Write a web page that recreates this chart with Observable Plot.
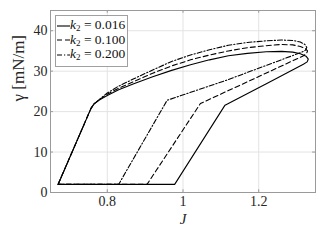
<!DOCTYPE html>
<html><head><meta charset="utf-8">
<script src="https://cdn.jsdelivr.net/npm/d3@7"></script>
<script src="https://cdn.jsdelivr.net/npm/@observablehq/plot@0.6"></script>
<style>
body{margin:0;background:#fff;}
#wrap{position:relative;width:327px;height:245px;font-family:'Liberation Serif','Times New Roman',serif;}
#wrap svg text{font-family:'Liberation Serif','Times New Roman',serif;}
#legend{position:absolute;left:55px;top:15px;width:73px;height:52px;border:1px solid #a0a0a0;background:#fff;box-sizing:border-box;font-size:13.5px;color:#111;font-family:'Liberation Serif','Times New Roman',serif;}
#legend .row{position:absolute;left:1px;height:14px;line-height:14px;white-space:nowrap;}
#legend svg{vertical-align:middle;}
#legend i{font-style:italic;}
#legend sub{font-size:9px;vertical-align:-2px;line-height:0;}
</style></head>
<body><div id="wrap"></div>
<script>
const xTicks = [0.8, 1, 1.2];
const xTickLabels = ["0.8", "1", "1.2"];
const yTicks = [0, 10, 20, 30, 40];
const series = ["k2 = 0.016", "k2 = 0.100", "k2 = 0.200"];

const J016 = [0.670,0.757,0.765,0.78,0.80,0.83,0.87,0.92,0.97,1.02,1.07,1.12,1.17,1.22,1.26,1.29,1.31,1.325,1.331,1.328,1.318,1.229,1.111,0.978,0.670];
const g016 = [2,20.8,21.9,22.9,24.0,25.4,26.9,28.6,30.2,31.6,32.8,33.8,34.4,34.8,34.9,34.7,34.3,33.7,33.0,32.3,31.7,27.3,21.6,2,2];

const J100 = [0.670,0.757,0.765,0.78,0.80,0.83,0.87,0.92,0.97,1.02,1.07,1.12,1.17,1.22,1.26,1.29,1.31,1.323,1.329,1.326,1.316,1.203,1.046,0.905,0.670];
const g100 = [2,20.8,21.9,23.0,24.3,25.8,27.4,29.5,31.3,32.8,34.0,35.0,35.8,36.3,36.6,36.5,36.1,35.6,35.0,34.3,33.7,28.8,22.0,2,2];

const J200 = [0.670,0.757,0.765,0.78,0.80,0.83,0.87,0.92,0.97,1.02,1.07,1.12,1.17,1.22,1.26,1.29,1.31,1.322,1.327,1.324,1.314,1.116,0.958,0.830,0.670];
const g200 = [2,20.8,21.9,23.1,24.6,26.3,28.1,30.3,32.4,34.0,35.3,36.4,37.1,37.5,37.7,37.6,37.2,36.6,35.9,35.2,34.7,27.8,22.8,2,2];

const xDomain = [0.65, 1.35];
const yDomain = [0, 45];

const toRows = (J, g, k) => J.map((j, i) => ({J: j, g: g[i], k}));
const d016 = toRows(J016, g016, series[0]);
const d100 = toRows(J100, g100, series[1]);
const d200 = toRows(J200, g200, series[2]);

const tx = (xDomain[1]-xDomain[0]) * 0.011;
const ty = (yDomain[1]-yDomain[0]) * 0.015;
const gridC = "#e3e3e3";
const axC = "#9a9a9a";
const serif = "'Liberation Serif','Times New Roman',serif";

const chart = Plot.plot({
  width: 327, height: 245,
  marginLeft: 50, marginRight: 12, marginTop: 10, marginBottom: 53,
  style: {fontFamily: serif, background: "#fff"},
  x: {domain: xDomain},
  y: {domain: yDomain},
  marks: [
    Plot.gridX(xTicks, {stroke: gridC, strokeOpacity: 1}),
    Plot.gridY(yTicks, {stroke: gridC, strokeOpacity: 1}),
    Plot.ruleX(xTicks, {x: d => d, y1: yDomain[0], y2: yDomain[0] + ty, stroke: axC}),
    Plot.ruleX(xTicks, {x: d => d, y1: yDomain[1], y2: yDomain[1] - ty, stroke: axC}),
    Plot.ruleY(yTicks, {y: d => d, x1: xDomain[0], x2: xDomain[0] + tx, stroke: axC}),
    Plot.ruleY(yTicks, {y: d => d, x1: xDomain[1], x2: xDomain[1] - tx, stroke: axC}),
    Plot.frame({stroke: axC}),
    Plot.axisX(xTicks, {tickSize: 0, tickPadding: 4, fontSize: 14, fill: "#262626", tickFormat: (d, i) => xTickLabels[i], label: null}),
    Plot.axisY(yTicks, {tickSize: 0, tickPadding: 3, fontSize: 14, fill: "#262626", label: null}),
    Plot.line(d200, {x: "J", y: "g", stroke: "#000", strokeWidth: 1.1, strokeDasharray: "5,2,1.2,2"}),
    Plot.line(d100, {x: "J", y: "g", stroke: "#000", strokeWidth: 1.1, strokeDasharray: "5,3"}),
    Plot.line(d016, {x: "J", y: "g", stroke: "#000", strokeWidth: 1.1}),
    Plot.text(["γ [mN/m]"], {text: d => d, frameAnchor: "left", dx: -32, rotate: -90, fontSize: 17, fill: "#262626"}),
    Plot.text(["J"], {text: d => d, frameAnchor: "bottom", dy: 31, fontSize: 15, fontStyle: "italic", fill: "#262626"})
  ]
});
const wrap = document.getElementById("wrap");
wrap.appendChild(chart);

const leg = document.createElement("div");
leg.id = "legend";
const dashes = ["", "5,3", "5,2,1.2,2"];
const vals = series.map(s => s.split("= ")[1]);
vals.forEach((v, i) => {
  const r = document.createElement("div");
  r.className = "row";
  r.style.top = (2 + i * 14.5) + "px";
  r.innerHTML = `<svg width="13" height="10"><line x1="0" x2="13" y1="5" y2="5" stroke="#000" stroke-width="1.1" stroke-dasharray="${dashes[i]}"/></svg><i>k</i><sub>2</sub>&nbsp;=&nbsp;${v}`;
  leg.appendChild(r);
});
wrap.appendChild(leg);
</script></body></html>
